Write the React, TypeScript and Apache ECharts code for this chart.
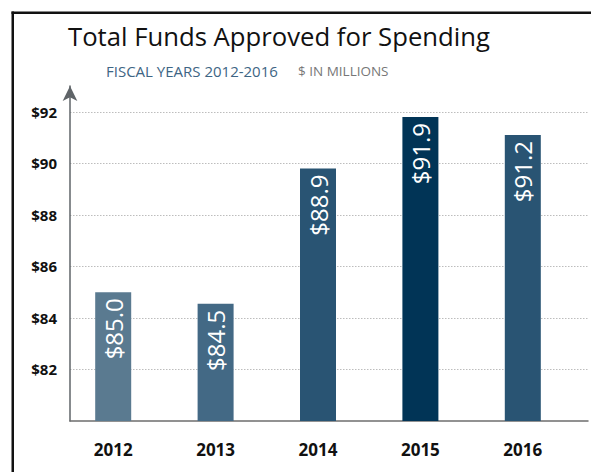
import React, { useEffect, useRef } from "react";
import * as echarts from "echarts";

const years = ["2012", "2013", "2014", "2015", "2016"];
const barValues = [85.0, 84.55, 89.8, 91.8, 91.1];
const barLabels = ["$85.0", "$84.5", "$88.9", "$91.9", "$91.2"];
const barColors = ["#5a7a90", "#436985", "#295473", "#013456", "#295473"];
const yMin = 80;
const yMax = 93;
const yStep = 2;

const FONT = "'Open Sans', 'Noto Sans', sans-serif";

export default function App() {
  const ref = useRef<HTMLDivElement>(null);
  useEffect(() => {
    if (!ref.current) return;
    const chart = echarts.init(ref.current, undefined, { renderer: "svg" });
    chart.setOption({
      animation: false,
      backgroundColor: "#ffffff",
      title: [
        {
          text: "Total Funds Approved for Spending",
          left: 68,
          top: 23,
          padding: 0,
          textStyle: { fontFamily: FONT, fontSize: 25.7, fontWeight: "normal", color: "#111111" },
        },
        {
          text: "FISCAL YEARS 2012-2016",
          left: 106,
          top: 63,
          padding: 0,
          textStyle: { fontFamily: FONT, fontSize: 15, fontWeight: "normal", color: "#3d6584" },
        },
        {
          text: "$ IN MILLIONS",
          left: 298,
          top: 64,
          padding: 0,
          textStyle: { fontFamily: FONT, fontSize: 13.5, fontWeight: "normal", color: "#777777" },
        },
      ],
      graphic: [
        { type: "rect", shape: { x: 11.5, y: 11.5, width: 2.5, height: 470 }, style: { fill: "#111111" } },
        { type: "rect", shape: { x: 11.5, y: 11.5, width: 590, height: 2.5 }, style: { fill: "#111111" } },
      ],
      grid: [
        { left: 70, right: 3, top: 86, bottom: 51 },
        { left: 62, right: 17, top: 86, bottom: 51 },
      ],
      xAxis: [
        {
          gridIndex: 0,
          type: "value",
          min: 0,
          max: 1,
          axisLine: { show: true, lineStyle: { color: "#6e6e6e", width: 1.5 } },
          axisTick: { show: false },
          axisLabel: { show: false },
          splitLine: { show: false },
        },
        {
          gridIndex: 1,
          type: "category",
          data: years,
          axisLine: { show: false },
          axisTick: { show: false },
          axisLabel: {
            margin: 20,
            fontFamily: FONT,
            fontSize: 17,
            fontWeight: "bold",
            color: "#111111",
          },
        },
      ],
      yAxis: [
        {
          gridIndex: 0,
          type: "value",
          min: yMin,
          max: yMax,
          interval: yStep,
          axisLine: {
            show: true,
            symbol: ["none", "arrow"],
            symbolSize: [11, 15],
            lineStyle: { color: "#5f6468", width: 1.5 },
          },
          axisTick: { show: false },
          axisLabel: {
            showMinLabel: false,
            showMaxLabel: false,
            margin: 13,
            fontFamily: FONT,
            fontSize: 15,
            fontWeight: "bold",
            color: "#111111",
            formatter: (v: number) => "$" + v,
          },
          splitLine: {
            show: true,
            showMinLine: false,
            showMaxLine: false,
            lineStyle: { color: "#bdbdbd", type: [1.5, 1.5], width: 1 },
          },
        },
        {
          gridIndex: 1,
          type: "value",
          min: yMin,
          max: yMax,
          interval: yStep,
          show: false,
          splitLine: { show: false },
        },
      ],
      series: [
        {
          type: "bar",
          xAxisIndex: 1,
          yAxisIndex: 1,
          barWidth: 36,
          data: barValues.map((v, i) => ({ value: v, itemStyle: { color: barColors[i] } })),
          label: {
            show: true,
            position: "insideTop",
            rotate: 90,
            align: "right",
            verticalAlign: "middle",
            distance: 6,
            fontFamily: FONT,
            fontSize: 24,
            color: "#ffffff",
            formatter: (p: any) => barLabels[p.dataIndex],
          },
        },
      ],
    });
    return () => chart.dispose();
  }, []);
  return (
    <div
      ref={ref}
      style={{ position: "absolute", left: 0, top: 0, width: 591, height: 472 }}
    />
  );
}
